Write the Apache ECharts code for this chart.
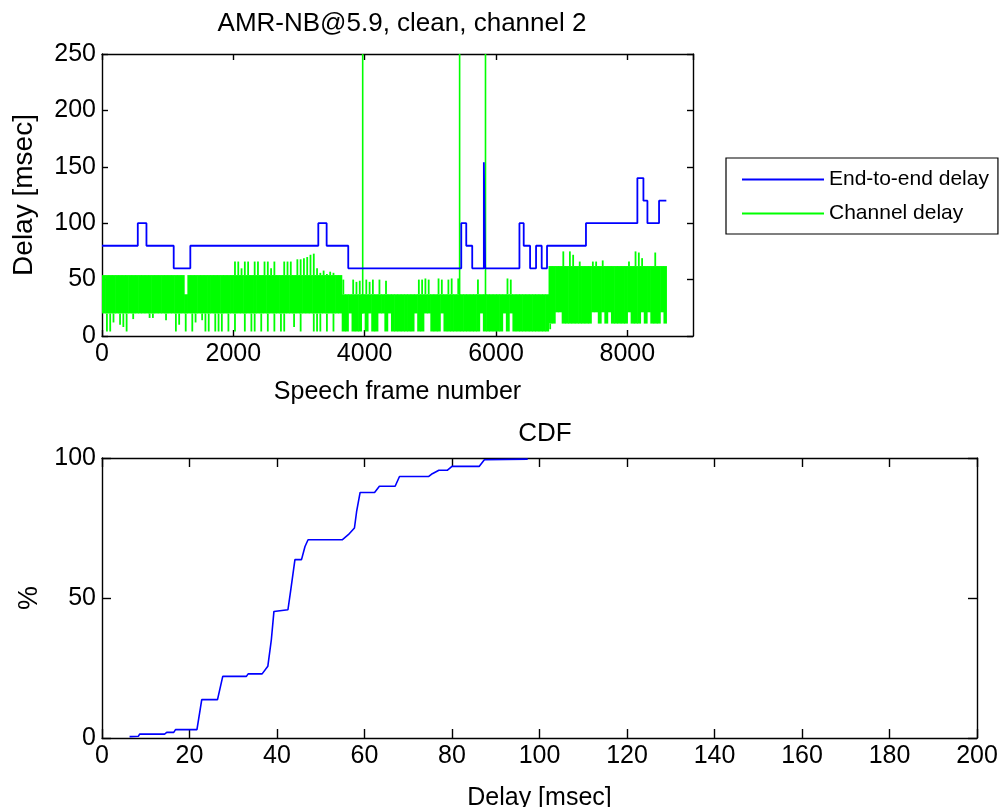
<!DOCTYPE html>
<html>
<head>
<meta charset="utf-8">
<script src="https://cdn.jsdelivr.net/npm/echarts@6/dist/echarts.min.js"></script>
<style>
html, body { margin: 0; padding: 0; background: #fff; }
#chart { width: 1007px; height: 807px; }
</style>
</head>
<body>
<div id="chart"></div>
<script>
// end-to-end delay: value holds from this frame until the next change
var e2eFrame = [0, 545, 677, 1092, 1345, 3294, 3421, 3750, 5471, 5547, 5638, 5815, 5835, 6357, 6422, 6519, 6610, 6696, 6777, 7370, 8153, 8245, 8306, 8483, 8594];
var e2eDelay = [80, 100, 80, 60, 80, 100, 80, 60, 100, 80, 60, 154, 60, 100, 80, 60, 80, 60, 80, 100, 140, 120, 100, 120, 120];

// channel delay, read as min / max per block of 50 frames
var chanBin = 50;
var chanLastFrame = 8594;
var chanLo = [
    20, 4, 4, 12, 20, 10, 8, 4, 20, 15,
    20, 20, 20, 20, 16, 16, 20, 20, 20, 14,
    20, 20, 4, 10, 20, 4, 20, 4, 12, 20,
    14, 4, 4, 20, 4, 4, 4, 20, 4, 20,
    4, 20, 20, 4, 20, 4, 4, 20, 4, 20,
    4, 20, 4, 20, 4, 4, 20, 20, 8, 20,
    4, 20, 20, 20, 4, 4, 4, 20, 4, 20,
    4, 20, 20, 4, 4, 20, 4, 4, 4, 20,
    4, 20, 4, 4, 20, 20, 4, 20, 4, 4,
    4, 4, 4, 4, 4, 20, 4, 4, 20, 20,
    4, 4, 4, 20, 4, 4, 4, 4, 4, 4,
    4, 4, 4, 4, 4, 20, 4, 4, 4, 4,
    4, 4, 20, 4, 20, 4, 4, 4, 4, 4,
    4, 4, 4, 4, 4, 4, 6, 11, 21, 21,
    11, 11, 11, 11, 11, 11, 11, 11, 11, 21,
    21, 11, 21, 11, 21, 11, 11, 11, 11, 11,
    21, 11, 11, 11, 21, 11, 21, 11, 11, 11,
    21, 11
];
var chanHi = [
    54, 54, 54, 54, 54, 54, 54, 54, 54, 54,
    54, 54, 54, 54, 54, 54, 54, 54, 54, 54,
    54, 54, 54, 54, 54, 37, 54, 54, 54, 54,
    54, 54, 54, 54, 54, 54, 54, 54, 54, 54,
    66, 66, 60, 66, 66, 54, 66, 66, 54, 66,
    66, 60, 66, 54, 54, 66, 66, 66, 54, 68,
    68, 69, 70, 72, 73, 60, 56, 58, 55, 57,
    56, 54, 54, 50, 37, 37, 50, 48, 49, 37,
    50, 48, 50, 37, 50, 37, 49, 37, 37, 37,
    37, 37, 37, 37, 37, 37, 50, 50, 51, 50,
    37, 37, 51, 50, 37, 50, 51, 37, 51, 37,
    37, 37, 37, 37, 50, 37, 37, 37, 37, 37,
    37, 37, 37, 51, 50, 37, 37, 37, 37, 37,
    37, 37, 37, 37, 37, 37, 62, 62, 62, 62,
    75, 62, 75, 72, 62, 66, 62, 62, 62, 66,
    66, 62, 67, 62, 62, 62, 62, 62, 62, 62,
    66, 62, 75, 74, 69, 62, 62, 62, 74, 62,
    62, 62
];
// the dense part of each stretch of the channel trace
var chanSegStart = [0, 3650, 6800];
var chanSegLo = [20, 4, 11];
var chanSegHi = [54, 37, 62];
// single frames far above the axis
var chanSpikeFrame = [3970, 5446, 5840];
var chanSpikeDelay = [260, 260, 260];

// CDF of delay
var cdfDelay = [6.3, 8.3, 8.6, 14.3, 14.8, 16.4, 16.8, 21.7, 22.8, 26.4,
    27.6, 33, 33.4, 36.6, 37.9, 38.7, 39.3, 42.5, 43.1, 44.1,
    45.6, 46.4, 47.1, 54.9, 56.3, 57.7, 58.2, 59, 62.3, 63.4,
    67, 68, 74.7, 75.5, 77, 78.9, 80, 86.2, 87.4, 97.3];
var cdfPct = [0.5, 0.6, 1.4, 1.4, 2, 2, 3, 3, 13.7, 13.7,
    22, 22, 22.9, 22.9, 25.6, 35, 45.2, 45.8, 52.4, 63.7,
    63.7, 68.4, 70.8, 70.8, 72.6, 75, 80.9, 87.7, 87.7, 89.9,
    89.9, 93.4, 93.4, 94.4, 95.6, 95.6, 97, 97, 99.4, 99.6];

var BLUE = '#0000ff';
var GREEN = '#00ff00';
var FONT = 'Liberation Sans, Arial, sans-serif';

var e2eData = [];
for (var i = 0; i < e2eFrame.length; i++) {
    e2eData.push([e2eFrame[i], e2eDelay[i]]);
}

var chanData = [];
for (var i = 0; i < chanLo.length; i++) {
    var f0 = i * chanBin;
    var s = 0;
    for (var k = 0; k < chanSegStart.length; k++) {
        if (chanSegStart[k] <= f0) s = k;
    }
    chanData.push([f0, Math.min(f0 + chanBin, chanLastFrame), chanLo[i], chanHi[i], chanSegLo[s], chanSegHi[s]]);
}

var spikeData = [];
for (var i = 0; i < chanSpikeFrame.length; i++) {
    spikeData.push([chanSpikeFrame[i], chanSpikeDelay[i]]);
}

var cdfData = [];
for (var i = 0; i < cdfDelay.length; i++) {
    cdfData.push([cdfDelay[i], cdfPct[i]]);
}

function renderChan(params, api) {
    var f0 = api.value(0), f1 = api.value(1);
    var lo = api.value(2), hi = api.value(3);
    var bLo = api.value(4), bHi = api.value(5);
    var a = api.coord([f0, Math.min(hi, bHi)]);
    var b = api.coord([f1, Math.max(lo, bLo)]);
    var children = [{
        type: 'rect',
        shape: { x: a[0], y: a[1], width: b[0] - a[0] + 0.6, height: b[1] - a[1] },
        style: { fill: GREEN }
    }];
    var mid = (f0 + f1) / 2;
    if (hi > bHi) {
        var p = api.coord([mid, bHi]), q = api.coord([mid, hi]);
        children.push({ type: 'line', shape: { x1: p[0], y1: p[1], x2: q[0], y2: q[1] }, style: { stroke: GREEN, lineWidth: 1.8 } });
    }
    if (lo < bLo) {
        var p = api.coord([mid, bLo]), q = api.coord([mid, lo]);
        children.push({ type: 'line', shape: { x1: p[0], y1: p[1], x2: q[0], y2: q[1] }, style: { stroke: GREEN, lineWidth: 1.8 } });
    }
    return { type: 'group', children: children };
}

function renderSpike(params, api) {
    var p = api.coord([api.value(0), 20]);
    var q = api.coord([api.value(0), api.value(1)]);
    return { type: 'line', shape: { x1: p[0], y1: p[1], x2: q[0], y2: q[1] }, style: { stroke: GREEN, lineWidth: 1.6 } };
}

function plainNumber(v) {
    return String(v);
}

function boxAxis(grid, pos, min, max, step, tickLen, labels, extra) {
    var ax = {
        gridIndex: grid,
        type: 'value',
        position: pos,
        min: min,
        max: max,
        interval: step,
        axisLine: { show: true, onZero: false, lineStyle: { color: '#000', width: 1.4 } },
        axisTick: { show: true, inside: true, length: tickLen, lineStyle: { color: '#000', width: 1.4 } },
        axisLabel: { show: labels, color: '#000', fontSize: 25, fontFamily: FONT, margin: 6, formatter: plainNumber, showMaxLabel: true },
        splitLine: { show: false }
    };
    for (var key in extra) {
        if (key === 'maxLabel') ax.axisLabel.showMaxLabel = extra[key];
        else ax[key] = extra[key];
    }
    return ax;
}

var chart = echarts.init(document.getElementById('chart'));

var option = {
    animation: false,
    backgroundColor: '#fff',
    textStyle: { fontFamily: FONT },
    title: [{
        text: 'AMR-NB@5.9, clean, channel 2',
        left: 397, top: 6, textAlign: 'center',
        textStyle: { fontSize: 26, fontWeight: 'normal', color: '#000', fontFamily: FONT }
    }, {
        text: 'CDF',
        left: 540, top: 416, textAlign: 'center',
        textStyle: { fontSize: 26, fontWeight: 'normal', color: '#000', fontFamily: FONT }
    }],
    legend: {
        data: ['End-to-end delay', 'Channel delay'],
        orient: 'vertical',
        left: 726, top: 158,
        padding: [11, 9, 10, 16],
        itemWidth: 82, itemHeight: 2, itemGap: 13,
        icon: 'rect',
        borderColor: '#000', borderWidth: 1.2,
        textStyle: { fontSize: 21, lineHeight: 20, color: '#000', fontFamily: FONT }
    },
    grid: [
        { left: 102, top: 54, width: 591, height: 282, outerBoundsMode: 'none', containLabel: false },
        { left: 102, top: 458, width: 875, height: 280, outerBoundsMode: 'none', containLabel: false }
    ],
    xAxis: [
        boxAxis(0, 'bottom', 0, 9000, 2000, 6, true, {
            maxLabel: false,
            name: 'Speech frame number', nameLocation: 'middle', nameGap: 44,
            nameTextStyle: { fontSize: 25, color: '#000', fontFamily: FONT }
        }),
        boxAxis(0, 'top', 0, 9000, 2000, 6, false, { maxLabel: false }),
        boxAxis(1, 'bottom', 0, 200, 20, 9, true, {
            name: 'Delay [msec]', nameLocation: 'middle', nameGap: 48,
            nameTextStyle: { fontSize: 25, color: '#000', fontFamily: FONT }
        }),
        boxAxis(1, 'top', 0, 200, 20, 9, false, { maxLabel: false })
    ],
    yAxis: [
        boxAxis(0, 'left', 0, 250, 50, 6, true, {
            name: 'Delay [msec]', nameLocation: 'middle', nameGap: 64,
            nameTextStyle: { fontSize: 28, color: '#000', fontFamily: FONT }
        }),
        boxAxis(0, 'right', 0, 250, 50, 6, false, { maxLabel: false }),
        boxAxis(1, 'left', 0, 100, 50, 9, true, {
            name: '%', nameLocation: 'middle', nameGap: 58,
            nameTextStyle: { fontSize: 27, color: '#000', fontFamily: FONT }
        }),
        boxAxis(1, 'right', 0, 100, 50, 9, false, { maxLabel: false })
    ],
    series: [{
        name: 'End-to-end delay',
        type: 'line',
        step: 'end',
        xAxisIndex: 0, yAxisIndex: 0,
        data: e2eData,
        showSymbol: false,
        itemStyle: { color: BLUE },
        lineStyle: { color: BLUE, width: 1.8 }
    }, {
        name: 'Channel delay',
        type: 'custom',
        xAxisIndex: 0, yAxisIndex: 0,
        renderItem: renderChan,
        encode: { x: [0, 1], y: [2, 3] },
        clip: true,
        itemStyle: { color: GREEN },
        data: chanData
    }, {
        name: 'Channel delay',
        type: 'custom',
        xAxisIndex: 0, yAxisIndex: 0,
        renderItem: renderSpike,
        encode: { x: 0, y: 1 },
        clip: true,
        itemStyle: { color: GREEN },
        data: spikeData
    }, {
        name: 'CDF',
        type: 'line',
        xAxisIndex: 2, yAxisIndex: 2,
        data: cdfData,
        showSymbol: false,
        itemStyle: { color: BLUE },
        lineStyle: { color: BLUE, width: 1.6 }
    }]
};

chart.setOption(option);
</script>
</body>
</html>
